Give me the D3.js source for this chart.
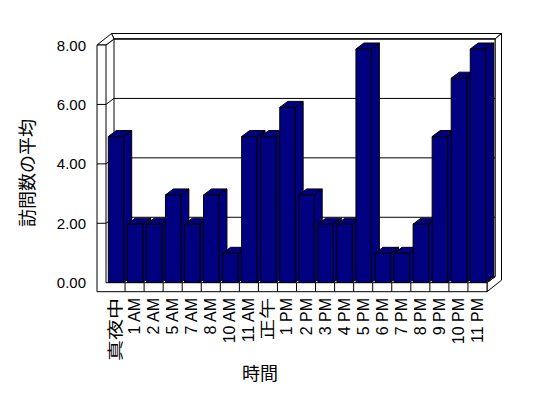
<!DOCTYPE html>
<html>
<head>
<meta charset="utf-8">
<script src="https://cdn.jsdelivr.net/npm/d3@7"></script>
<style>
  html, body { margin: 0; padding: 0; background: #fff; }
  svg { display: block; }
  text { font-family: "Liberation Sans", Arial, "Noto Sans CJK JP", sans-serif; fill: #000; }
</style>
</head>
<body>
<div id="chart"></div>
<script>
// 3D column chart: average visits per hour
const categories = ["真夜中", "1 AM", "2 AM", "5 AM", "7 AM", "8 AM", "10 AM", "11 AM", "正午",
  "1 PM", "2 PM", "3 PM", "4 PM", "5 PM", "6 PM", "7 PM", "8 PM", "9 PM", "10 PM", "11 PM"];
const values = [5, 2, 2, 3, 2, 3, 1, 5, 5, 6, 3, 2, 2, 8, 1, 1, 2, 5, 7, 8];
const yTicks = [0, 2, 4, 6, 8];
const yTitle = "訪問数の平均";
const xTitle = "時間";

const W = 548, H = 398;

// plot box (front plane) and depth offsets
const pLeft = 106, pRight = 487, pBottom = 282.7, pTop = 45;
const wallW = 9, floorH = 9;
const depth = { dx: 8, dy: -6 };      // front -> back wall face
const wallT = { dx: 6.5, dy: -5.5 };  // back wall thickness
const barDepth = { dx: 8, dy: -6 };

const x = d3.scaleBand().domain(categories).range([pLeft, pRight]);
const yFront = d3.scaleLinear().domain([0, 8]).range([pBottom, pTop]);
const yBar = d3.scaleLinear().domain([0, 8]).range([282.5, 49]);

const svg = d3.select("#chart").append("svg")
  .attr("width", W).attr("height", H);

const line = d3.line();
const frame = svg.append("g")
  .attr("fill", "#fff")
  .attr("stroke", "#000")
  .attr("stroke-width", 1);

const bx0 = pLeft + depth.dx, bx1 = pRight + depth.dx;
const by0 = pTop + depth.dy, by1 = pBottom + depth.dy;
const ox1 = pRight + depth.dx + wallT.dx, oy0 = pTop + depth.dy + wallT.dy;

// back wall: top face, right face, front face
frame.append("path")
  .attr("d", line([[pLeft - wallW + depth.dx + wallT.dx, oy0], [ox1, oy0], [bx1, by0], [bx0, by0]]) + "Z");
frame.append("path")
  .attr("d", line([[bx1, by0], [ox1, oy0], [ox1, pBottom + floorH + depth.dy + wallT.dy],
    [pRight, pBottom + floorH], [pRight, pBottom], [bx1, by1]]) + "Z");
frame.append("path")
  .attr("d", line([[bx0, by0], [bx1, by0], [bx1, by1], [bx0, by1]]) + "Z");

// gridlines on the back wall, joined to the left wall
yTicks.filter(v => v > 0).forEach(v => {
  frame.append("path")
    .attr("fill", "none")
    .attr("d", line([[pLeft, yFront(v)], [bx0, yFront(v) + depth.dy], [bx1, yFront(v) + depth.dy]]));
});

// left wall: top face and front edge
frame.append("path")
  .attr("d", line([[pLeft - wallW, pTop], [pLeft, pTop], [bx0, by0],
    [pLeft - wallW + depth.dx + wallT.dx, oy0]]) + "Z");
frame.append("path")
  .attr("d", line([[pLeft - wallW, pTop], [pLeft, pTop], [pLeft, pBottom], [pRight, pBottom],
    [pRight, pBottom + floorH], [pLeft - wallW, pBottom + floorH]]) + "Z");

// floor right face
frame.append("path")
  .attr("fill", "none")
  .attr("d", line([[pRight, pBottom], [bx1, by1]]));

// ticks on the left wall edge
yTicks.filter(v => v > 0 && v < 8).forEach(v => {
  frame.append("line")
    .attr("x1", pLeft - wallW).attr("x2", pLeft)
    .attr("y1", yFront(v)).attr("y2", yFront(v));
});

// ticks on the floor edge
categories.slice(1).forEach(c => {
  frame.append("line")
    .attr("x1", x(c)).attr("x2", x(c))
    .attr("y1", pBottom).attr("y2", pBottom + floorH);
});

// bars, drawn left to right so each covers the side of the previous one
const barInset = 2.3, barW = 15.4;
const bars = svg.append("g")
  .attr("fill", "#000080")
  .attr("stroke", "#000")
  .attr("stroke-width", 1)
  .attr("stroke-linejoin", "round");

categories.forEach((c, i) => {
  const x0 = x(c) + barInset, x1 = x0 + barW;
  const yt = yBar(values[i]), yb = yBar(0);
  const g = bars.append("g");
  g.append("path")
    .attr("d", line([[x1, yt], [x1 + barDepth.dx, yt + barDepth.dy],
      [x1 + barDepth.dx, yb + barDepth.dy], [x1, yb]]) + "Z");
  g.append("path")
    .attr("d", line([[x0, yt], [x1, yt], [x1 + barDepth.dx, yt + barDepth.dy],
      [x0 + barDepth.dx, yt + barDepth.dy]]) + "Z");
  g.append("rect")
    .attr("x", x0).attr("y", yt)
    .attr("width", barW).attr("height", yb - yt);
});

// y tick labels
svg.append("g").selectAll("text")
  .data(yTicks)
  .join("text")
  .attr("x", 86)
  .attr("y", d => yFront(d))
  .attr("text-anchor", "end")
  .attr("dominant-baseline", "central")
  .attr("font-size", "15px")
  .text(d => d3.format(".2f")(d));

// x tick labels, rotated; the kanji ones are drawn stretched like the original
const isCJK = s => /[^\x00-\x7F]/.test(s);
svg.append("g").selectAll("text")
  .data(categories)
  .join("text")
  .attr("transform", d => `translate(${x(d) + x.bandwidth() / 2},298) rotate(-90)`)
  .attr("text-anchor", "end")
  .attr("dominant-baseline", "central")
  .attr("font-size", d => isCJK(d) ? "16px" : "16px")
  .attr("textLength", d => isCJK(d) ? d.length * 21 : null)
  .attr("lengthAdjust", "spacingAndGlyphs")
  .text(d => d);

// axis titles
svg.append("text")
  .attr("transform", "translate(28,173) rotate(-90)")
  .attr("text-anchor", "middle")
  .attr("dominant-baseline", "central")
  .attr("font-size", "18px")
  .text(yTitle);

svg.append("text")
  .attr("x", 260)
  .attr("y", 374)
  .attr("text-anchor", "middle")
  .attr("dominant-baseline", "central")
  .attr("font-size", "18px")
  .text(xTitle);
</script>
</body>
</html>
